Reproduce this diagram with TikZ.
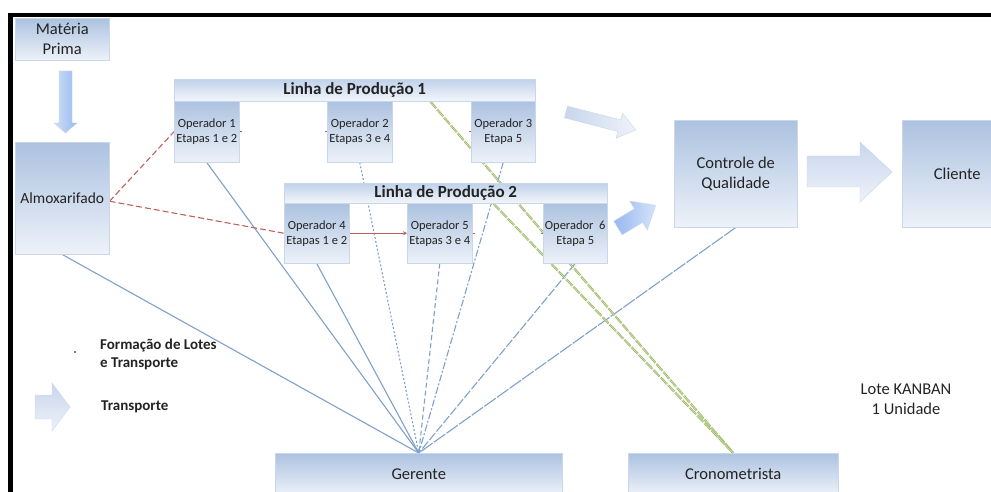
\documentclass[tikz,border=0pt]{standalone}
\usepackage{fontspec}
\setmainfont{Carlito}
\usetikzlibrary{calc,arrows.meta}

\definecolor{boxtop}{RGB}{172,194,224}
\definecolor{boxbot}{RGB}{237,242,249}
\definecolor{headtop}{RGB}{192,210,234}
\definecolor{headbot}{RGB}{243,246,251}
\definecolor{boxedge}{RGB}{202,215,234}
\definecolor{txt}{RGB}{35,35,35}
\definecolor{mgr}{RGB}{128,160,204}
\definecolor{lot}{RGB}{192,96,90}
\definecolor{chrono}{RGB}{152,182,92}
\definecolor{arrlight}{RGB}{238,242,250}
\definecolor{arrpale}{RGB}{200,214,236}
\definecolor{arrblue}{RGB}{150,184,240}

\pgfdeclarelayer{bg}
\pgfsetlayers{bg,main}

\tikzset{
  box/.style={draw=boxedge, line width=0.5pt, top color=boxtop, bottom color=boxbot,
    inner sep=0pt, anchor=north west, align=center, text=txt},
  hdr/.style={box, top color=headtop, bottom color=headbot,
    font=\fontsize{17}{20}\selectfont\bfseries},
  big/.style={font=\fontsize{16.5}{20}\selectfont},
  oper/.style={font=\fontsize{12.5}{15}\selectfont},
  legendtext/.style={font=\fontsize{15}{18}\selectfont\bfseries, text=txt, align=left, inner sep=0pt, anchor=west},
  mgrline/.style={draw=mgr, line width=1.1pt},
  lotline/.style={draw=lot, line width=1.1pt},
  lottick/.style={draw=lot, line width=1.5pt},
  chronoline/.style={draw=chrono, line width=0.7pt, double=chrono!45!white, double distance=0.7pt,
    dash pattern=on 9pt off 1.5pt},
  blockarrow/.style={draw=boxedge, line width=0.4pt},
}

\begin{document}
\begin{tikzpicture}[x=1pt,y=1pt]
\useasboundingbox (0,0) rectangle (991,-492);
\clip (0,0) rectangle (991,-492);

% frame
\draw[line width=4pt] (8,-15) -- (991,-15);
\draw[line width=5pt] (10.5,-13) -- (10.5,-492);

% stock and raw material
\node[box, big, minimum width=94pt, minimum height=42pt] (mp) at (15,-18) {Matéria\\Prima};
\node[box, font=\fontsize{15.5}{19}\selectfont, minimum width=94pt, minimum height=112pt] (alm) at (15,-142) {Almoxarifado};

% production line 1
\node[hdr, minimum width=361pt, minimum height=22pt] (lp1) at (174,-79) {Linha de Produção 1};
\node[box, oper, minimum width=65pt, minimum height=61pt] (op1) at (174,-101) {Operador 1\\Etapas 1 e 2};
\node[box, oper, minimum width=65pt, minimum height=61pt] (op2) at (327,-101) {Operador 2\\Etapas 3 e 4};
\node[box, oper, minimum width=64pt, minimum height=61pt] (op3) at (471,-101) {Operador 3\\Etapa 5};

% production line 2
\node[hdr, minimum width=323pt, minimum height=20pt] (lp2) at (284,-183) {Linha de Produção 2};
\node[box, oper, minimum width=65pt, minimum height=60pt] (op4) at (284,-203) {Operador 4\\Etapas 1 e 2};
\node[box, oper, minimum width=65pt, minimum height=60pt] (op5) at (407,-203) {Operador 5\\Etapas 3 e 4};
\node[box, oper, minimum width=64pt, minimum height=60pt] (op6) at (543,-203) {Operador~ 6\\Etapa 5};

% quality control and customer
\node[box, big, minimum width=123pt, minimum height=107pt] (cq) at (674,-120) {Controle de\\Qualidade};
\node[box, big, minimum width=110pt, minimum height=107pt] (cli) at (902,-120) {Cliente};

% staff
\node[box, big, minimum width=287pt, minimum height=42pt] (ger) at (275,-453) {Gerente};
\node[box, big, minimum width=210pt, minimum height=42pt] (cro) at (628,-453) {Cronometrista};

% legend
\node[legendtext] (lg1) at (100,-354) {Formação de Lotes\\e Transporte};
\node[legendtext] (lg2) at (101,-407) {Transporte};
\node[big, align=center, text=txt, inner sep=0pt] (kb) at (906,-399) {Lote KANBAN\\1 Unidade};

% block arrows
\shade[blockarrow, left color=arrblue!45!white, right color=arrblue]
  (59,-71) -- (72,-71) -- (72,-123) -- (77,-123) -- (65.5,-133) -- (54,-123) -- (59,-123) -- cycle;
\begin{scope}[shift={(566,-112)}, rotate=-14.4]
  \shade[blockarrow, left color=arrpale, right color=arrlight]
    (0,-6) -- (55,-6) -- (55,-13) -- (72,0) -- (55,13) -- (55,6) -- (0,6) -- cycle;
\end{scope}
\begin{scope}[shift={(618,-228)}, rotate=31.2]
  \shade[blockarrow, left color=arrblue, right color=arrblue!40!white]
    (0,-8) -- (24,-8) -- (24,-17) -- (44,0) -- (24,17) -- (24,8) -- (0,8) -- cycle;
\end{scope}
\shade[blockarrow, top color=arrpale, bottom color=arrlight]
  (807,-156) -- (860,-156) -- (860,-142) -- (892,-172) -- (860,-202) -- (860,-187) -- (807,-187) -- cycle;
\shade[blockarrow, top color=arrpale, bottom color=arrlight]
  (35,-395) -- (52,-395) -- (52,-383) -- (70,-407) -- (52,-431) -- (52,-419) -- (35,-419) -- cycle;

% legend mark for batch transport
\draw[lottick] (74,-352) -- (76,-352);

\coordinate (almR) at ($(alm.east)+(0,-3)$);
\coordinate (gA) at ($(lp1.south west)!0.709!(lp1.south east)$);
\coordinate (gB) at ($(lp2.south west)!0.647!(lp2.south east)$);

\begin{pgfonlayer}{bg}
  % manager links
  \draw[mgrline] (alm.south) -- (ger.north);
  \draw[mgrline] (op1.south) -- (ger.north);
  \draw[mgrline] (op4.south) -- (ger.north);
  \draw[mgrline, dash pattern=on 2pt off 2pt] (op2.south) -- (ger.north);
  \draw[mgrline, dash pattern=on 5pt off 3pt] (op5.south) -- (ger.north);
  \draw[mgrline, dash pattern=on 7pt off 2pt on 2pt off 2pt] (op3.south) -- (ger.north);
  \draw[mgrline, dash pattern=on 9pt off 2pt] (op6.south) -- (ger.north);
  \draw[mgrline, dash pattern=on 14pt off 1.5pt] (cq.south) -- (ger.north);
  % timekeeper links
  \draw[chronoline] (gA) -- (cro.north);
  \draw[chronoline] (gB) -- (cro.north);
  % batch transport
  \draw[lotline, dash pattern=on 6pt off 3pt] (almR) -- (op1.west);
  \draw[lotline, dash pattern=on 6pt off 3pt] (almR) -- (op4.west);
\end{pgfonlayer}

\draw[lotline, -{Stealth[length=4pt,width=4pt]}] (op4.east) -- (op5.west);
\draw[lottick] (op1.east) -- ++(2,0);
\draw[lottick] (op2.west) -- ++(-2,0);
\draw[lottick] (op3.west) -- ++(-2,0);
\draw[lottick] (op5.east) -- ++(2,0);
\draw[lottick] (op6.west) -- ++(-2,0);
\end{tikzpicture}
\end{document}
